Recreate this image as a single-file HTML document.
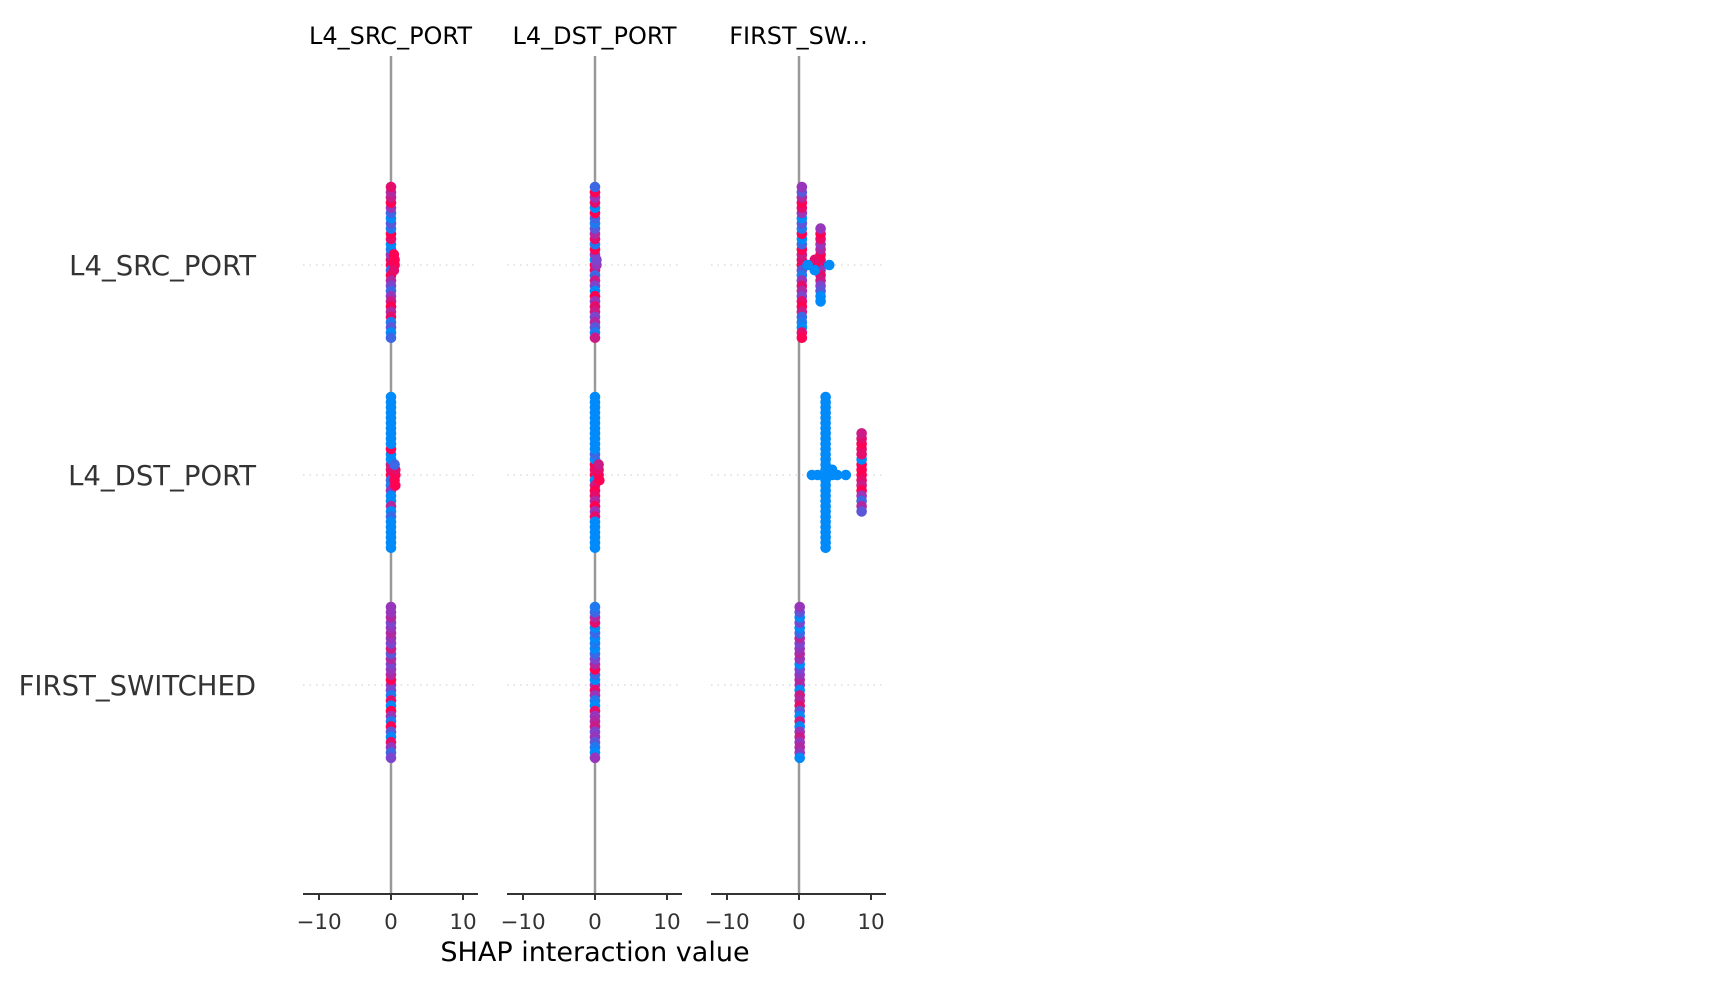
<!DOCTYPE html>
<html><head><meta charset="utf-8">
<style>
html,body{margin:0;padding:0;background:#fff;}
svg{display:block;font-family:"DejaVu Sans","Liberation Sans",sans-serif;}
</style></head>
<body>
<svg id="chart" width="1725" height="990" viewBox="0 0 1725 990"></svg>
<script>
const features = ["L4_SRC_PORT","L4_DST_PORT","FIRST_SWITCHED"];
const panelTitles = ["L4_SRC_PORT","L4_DST_PORT","FIRST_SW..."];
const xTicks = [-10,0,10];
const xTickLabels = ["\u221210","0","10"];
// SHAP interaction values per cell (panel, row) and feature values (0..9)
const p0r0X = [0,0,0,0,0,0,0,0,0,0,0,0,0,0,0,0,0,0,0,0,0,0,0,0,0,0,0,0,0,0,0.5,0.5,0.4,0.4];
const p0r0C = [9,8,2,5,9,1,6,0,4,8,2,9,5,1,7,3,9,0,6,2,8,5,1,9,3,7,0,6,2,8,9,9,8,9];
const p0r1X = [0,0,0,0,0,0,0,0,0,0,0,0,0,0,0,0,0,0,0,0,0,0,0,0,0,0,0,0,0,0,0.6,0.6,0.5,0.5,0.6];
const p0r1C = [9,8,2,7,1,0,5,0,0,9,0,0,6,0,0,0,2,0,0,0,0,0,0,0,0,0,0,0,0,0,9,8,9,2,9];
const p0r2X = [0,0,0,0,0,0,0,0,0,0,0,0,0,0,0,0,0,0,0,0,0,0,0,0,0,0,0,0,0,0];
const p0r2C = [5,9,4,6,1,5,8,4,0,6,9,3,5,7,1,4,9,5,3,6,0,5,8,4,5,6,2,5,4,5];
const p1r0X = [0,0,0,0,0,0,0,0,0,0,0,0,0,0,0,0,0,0,0,0,0,0,0,0,0,0,0,0,0,0,0.2,0.2];
const p1r0C = [9,0,8,5,2,9,7,1,4,8,0,6,9,3,5,1,8,2,7,9,4,0,6,8,3,5,1,9,7,2,5,4];
const p1r1X = [0,0,0,0,0,0,0,0,0,0,0,0,0,0,0,0,0,0,0,0,0,0,0,0,0,0,0,0,0,0,0.5,0.5,0.6,0.5];
const p1r1C = [9,8,0,9,7,0,9,2,8,0,6,0,9,0,5,0,8,0,0,0,0,0,0,0,0,0,0,0,0,0,9,8,9,7];
const p1r2X = [0,0,0,0,0,0,0,0,0,0,0,0,0,0,0,0,0,0,0,0,0,0,0,0,0,0,0,0,0,0];
const p1r2C = [5,0,8,2,5,9,1,6,0,4,8,2,5,0,6,1,7,0,4,2,5,0,3,8,1,6,0,2,5,1];
const p2r0X = [0.4,0.4,0.4,0.4,0.4,0.4,0.4,0.4,0.4,0.4,0.4,0.4,0.4,0.4,0.4,0.4,0.4,0.4,0.4,0.4,0.4,0.4,0.4,0.4,0.4,0.4,0.4,0.4,0.4,0.4,3.0,3.0,3.0,3.0,3.0,3.0,3.0,3.0,3.0,3.0,3.0,3.0,3.0,3.0,3.0,2.2,2.2,2.2,4.2,1.2];
const p2r0C = [9,8,3,7,1,9,5,2,8,0,6,9,4,1,8,3,9,0,7,5,2,8,1,9,0,6,8,3,9,5,9,8,5,9,8,6,7,5,4,8,3,9,0,5,0,9,8,0,0,0];
const p2r1X = [3.7,3.7,3.7,3.7,3.7,3.7,3.7,3.7,3.7,3.7,3.7,3.7,3.7,3.7,3.7,3.7,3.7,3.7,3.7,3.7,3.7,3.7,3.7,3.7,3.7,3.7,3.7,3.7,3.7,3.7,1.8,2.6,4.6,5.3,6.5,4.6,8.7,8.7,8.7,8.7,8.7,8.7,8.7,8.7,8.7,8.7,8.7,8.7,8.7,8.7,8.7,8.7];
const p2r1C = [0,0,0,0,0,0,0,0,0,0,0,0,0,0,0,0,0,0,0,0,0,0,0,0,0,0,0,0,0,0,0,0,0,0,0,0,9,9,8,9,7,0,9,8,5,8,2,9,6,8,3,7];
const p2r2X = [0.1,0.1,0.1,0.1,0.1,0.1,0.1,0.1,0.1,0.1,0.1,0.1,0.1,0.1,0.1,0.1,0.1,0.1,0.1,0.1,0.1,0.1,0.1,0.1,0.1,0.1,0.1,0.1,0.1,0.1];
const p2r2C = [5,6,0,5,7,4,6,0,8,5,3,6,0,5,7,4,0,6,5,2,7,0,5,4,6,0,5,3,0,5];

const cellsX = [[p0r0X,p0r1X,p0r2X],[p1r0X,p1r1X,p1r2X],[p2r0X,p2r1X,p2r2X]];
const cellsC = [[p0r0C,p0r1C,p0r2C],[p1r0C,p1r1C,p1r2C],[p2r0C,p2r1C,p2r2C]];

const NS = "http://www.w3.org/2000/svg";
const svg = document.getElementById("chart");
function mk(tag, attrs, parent){const e=document.createElementNS(NS,tag);for(const k in attrs)e.setAttribute(k,attrs[k]);(parent||svg).appendChild(e);return e;}

const panelZero = [391, 595, 799];
const pxPerUnit = 7.2;
const rowY = [265, 475, 685];
const axisY = 894, topY = 56;
const xScale = (p, v) => panelZero[p] + v * pxPerUnit;

function colorFor(v){
  const t=v/9;
  const a=[0,138,250], m=[138,60,200], b=[255,0,82];
  let c;
  if(t<0.5){const u=t/0.5;c=a.map((x,i)=>Math.round(x+(m[i]-x)*u));}
  else{const u=(t-0.5)/0.5;c=m.map((x,i)=>Math.round(x+(b[i]-x)*u));}
  return `rgb(${c[0]},${c[1]},${c[2]})`;
}

// y labels
features.forEach((f,r)=>{
  const t=mk("text",{x:256,y:rowY[r]+10,"text-anchor":"end","font-size":27.5,fill:"#333"});
  t.textContent=f;
  
  
});

for(let p=0;p<3;p++){
  const g=mk("g",{});
  
  
  const x0=panelZero[p]-88, x1=panelZero[p]+87;
  const title=mk("text",{x:(x0+x1)/2,y:44,"text-anchor":"middle","font-size":24,fill:"#000"},g);
  title.textContent=panelTitles[p];
  
  
  rowY.forEach(y=>{
    const gl=mk("line",{x1:x0,x2:x1,y1:y,y2:y,stroke:"#ccc","stroke-width":1,"stroke-dasharray":"1.5,5"},g);
    
    
  });
  const zl=mk("line",{x1:xScale(p,0),x2:xScale(p,0),y1:topY,y2:axisY,stroke:"#999","stroke-width":2.5},g);
  
  
  const ax=mk("line",{x1:x0,x2:x1,y1:axisY,y2:axisY,stroke:"#333","stroke-width":2},g);
  
  
  xTicks.forEach((tv,i)=>{
    const tx=xScale(p,tv);
    const tk=mk("line",{x1:tx,x2:tx,y1:axisY,y2:axisY+6,stroke:"#333","stroke-width":2},g);
    
    
    const tl=mk("text",{x:tx,y:929,"text-anchor":"middle","font-size":21.5,fill:"#333"},g);
    tl.textContent=xTickLabels[i];
    
    
  });
  for(let r=0;r<3;r++){
    const xs=cellsX[p][r], cs=cellsC[p][r];
    const bins={};
    const step=5.2;
    xs.forEach((v,i)=>{
      const key=Math.round(v*4);
      const k=bins[key]||0; bins[key]=k+1;
      const off=Math.ceil(k/2)*step*(k%2?-1:1);
      const c=mk("circle",{cx:xScale(p,v),cy:rowY[r]+off,r:5.3,fill:colorFor(cs[i])},g);
      
      
    });
  }
}
const xl=mk("text",{x:595,y:961,"text-anchor":"middle","font-size":27,fill:"#000"});
xl.textContent="SHAP interaction value";


</script>
</body></html>
